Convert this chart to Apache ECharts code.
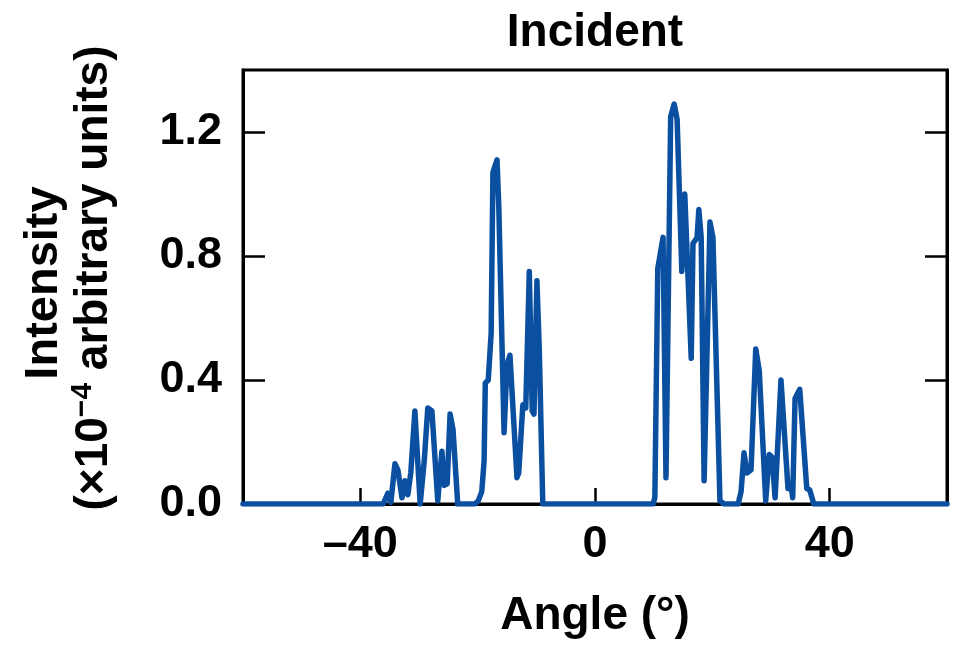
<!DOCTYPE html>
<html>
<head>
<meta charset="utf-8">
<title>Incident</title>
<script src="https://cdn.jsdelivr.net/npm/echarts@6/dist/echarts.min.js"></script>
<style>
  html, body { margin: 0; padding: 0; background: #fff; }
  #chart { width: 954px; height: 649px; }
</style>
</head>
<body>
<div id="chart"></div>
<script>
// Incident intensity profile versus angle
const angles = [
  -60, -36.1, -35.3, -34.8, -34.1, -33.6, -32.9, -32.4, -31.9, -31.4, -30.7, -29.8,
  -29.1, -28.5, -27.8, -26.8, -26.1, -25.7, -25.2, -24.7, -24.2, -23.4, -20.5,
  -19.9, -19.3, -18.9, -18.7, -18.2, -17.7, -17.4, -16.7, -16.4, -15.5, -15.0,
  -14.5, -13.3, -13.0, -12.3, -11.8, -11.2, -10.7, -10.4, -9.9, -9.5, -8.9,
  9.9, 10.2, 10.7, 11.6, 12.1, 12.9, 13.5, 14.0, 14.8, 15.3, 16.4, 16.7, 17.4,
  17.7, 18.1, 18.6, 19.6, 20.1, 21.3, 22.0, 24.4, 24.9, 25.4, 25.9, 26.6, 27.4,
  28.0, 29.1, 29.7, 30.2, 30.7, 31.7, 32.9, 33.4, 33.7, 34.1, 34.9, 36.1, 36.6,
  37.3, 60
];
const intensity = [
  0, 0, 0.035, 0.005, 0.13, 0.11, 0.02, 0.075, 0.03, 0.10, 0.30, 0.0,
  0.14, 0.31, 0.30, 0.01, 0.17, 0.06, 0.065, 0.29, 0.24, 0.0, 0,
  0.01, 0.04, 0.14, 0.39, 0.40, 0.55, 1.07, 1.11, 0.96, 0.23, 0.45,
  0.48, 0.085, 0.10, 0.32, 0.31, 0.75, 0.30, 0.29, 0.72, 0.5, 0.0,
  0, 0.02, 0.76, 0.86, 0.085, 1.25, 1.29, 1.24, 0.75, 1.0, 0.47, 0.84, 0.86,
  0.95, 0.86, 0.075, 0.91, 0.86, 0.01, 0, 0, 0.04, 0.165, 0.10, 0.11, 0.50,
  0.43, 0.01, 0.16, 0.15, 0.02, 0.40, 0.05, 0.06, 0.02, 0.34, 0.37, 0.05, 0.045,
  0, 0
];
const xTicks = [-40, 0, 40];
const yTicks = [0, 0.4, 0.8, 1.2];

const FONT = '"Liberation Sans", Arial, Helvetica, sans-serif';
const points = angles.map((a, i) => [a, intensity[i]]);

const chart = echarts.init(document.getElementById('chart'), null, { renderer: 'canvas' });

const tickLabel = {
  fontFamily: FONT, fontWeight: 'bold', fontSize: 45, color: '#000'
};

chart.setOption({
  animation: false,
  backgroundColor: '#fff',
  grid: {
    left: 243, right: 7, top: 70, bottom: 145,
    show: true, borderColor: '#000', borderWidth: 3, backgroundColor: 'transparent'
  },
  xAxis: {
    type: 'value', min: -60, max: 60,
    axisLine: { show: true, onZero: false, lineStyle: { color: '#000', width: 3 } },
    axisTick: { show: true, inside: true, length: 16, customValues: xTicks,
      lineStyle: { color: '#000', width: 2.5 } },
    axisLabel: Object.assign({ margin: 18, customValues: xTicks,
      formatter: v => String(v).replace('-', '\u2013') }, tickLabel),
    splitLine: { show: false }
  },
  yAxis: [
    {
      type: 'value', min: 0, max: 1.4, position: 'left',
      axisLine: { show: true, onZero: false, lineStyle: { color: '#000', width: 3 } },
      axisTick: { show: true, inside: true, length: 22, customValues: yTicks,
        lineStyle: { color: '#000', width: 2.5 } },
      axisLabel: Object.assign({ margin: 21, customValues: yTicks,
        formatter: v => v.toFixed(1) }, tickLabel),
      splitLine: { show: false }
    },
    {
      type: 'value', min: 0, max: 1.4, position: 'right',
      axisLine: { show: true, onZero: false, lineStyle: { color: '#000', width: 3 } },
      axisTick: { show: true, inside: true, length: 22, customValues: yTicks,
        lineStyle: { color: '#000', width: 2.5 } },
      axisLabel: { show: false },
      splitLine: { show: false }
    }
  ],
  series: [{
    type: 'line',
    data: points,
    showSymbol: false,
    smooth: false,
    lineStyle: { color: '#0b50a0', width: 5.5, join: 'round', cap: 'round' },
    z: 1
  }],
  graphic: [
    {
      type: 'text', x: 595, y: 33,
      style: { text: 'Incident', fontFamily: FONT, fontWeight: 'bold', fontSize: 46,
        fill: '#000', align: 'center', verticalAlign: 'middle' }
    },
    {
      type: 'text', x: 595, y: 616,
      style: { text: 'Angle (°)', fontFamily: FONT, fontWeight: 'bold', fontSize: 46,
        fill: '#000', align: 'center', verticalAlign: 'middle' }
    },
    {
      type: 'text', x: 44, y: 283, rotation: Math.PI / 2,
      style: { text: 'Intensity', fontFamily: FONT, fontWeight: 'bold', fontSize: 47,
        fill: '#000', align: 'center', verticalAlign: 'middle' }
    },
    {
      type: 'text', x: 94, y: 278, rotation: Math.PI / 2,
      style: {
        text: '(×10{sup|\u22124} arbitrary units)',
        fontFamily: FONT, fontWeight: 'bold', fontSize: 46, fill: '#000',
        align: 'center', verticalAlign: 'middle', lineHeight: 52,
        rich: {
          sup: { fontFamily: FONT, fontWeight: 'bold', fontSize: 30, fill: '#000',
            verticalAlign: 'top', lineHeight: 52, padding: [0, 0, 18, 0] }
        }
      }
    }
  ]
});
</script>
</body>
</html>
